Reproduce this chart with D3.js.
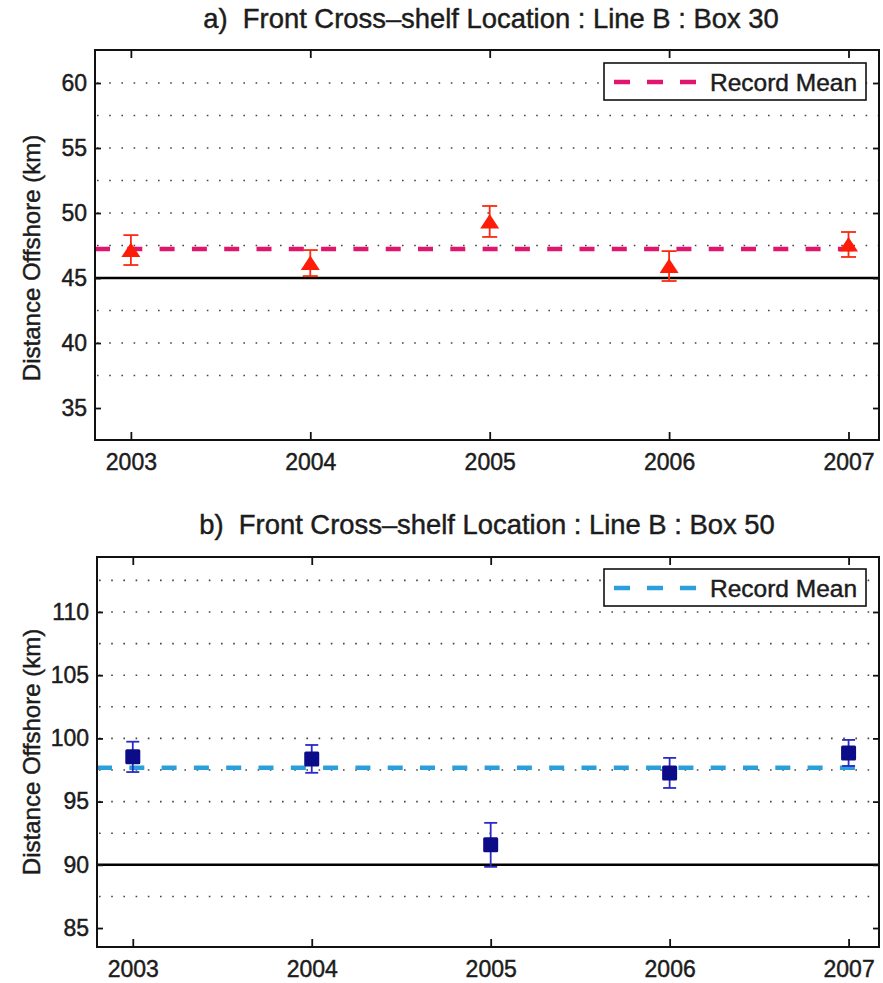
<!DOCTYPE html>
<html>
<head>
<meta charset="utf-8">
<script src="https://cdn.jsdelivr.net/npm/d3@7"></script>
<style>
body { margin: 0; background: #fff; }
svg text { font-family: "Liberation Sans", Arial, Helvetica, sans-serif; fill: #1c1c1c; stroke: #1c1c1c; stroke-width: 0.45px; white-space: pre; }
</style>
</head>
<body>
<div id="chart"></div>
<script>
// values
var years = [2003, 2004, 2005, 2006, 2007];

var box30Values = [47.15, 46.15, 49.35, 45.92, 47.58],
    box30Errors = [1.15, 1.0, 1.19, 1.15, 0.96],
    box30Mean = 47.23,
    box30Reference = 45,
    box30Ticks = [35, 40, 45, 50, 55, 60],
    box30Grid = [37.5, 40, 42.5, 45, 47.5, 50, 52.5, 55, 57.5, 60];

var box50Values = [98.54, 98.38, 91.58, 97.27, 98.85],
    box50Errors = [1.2, 1.1, 1.74, 1.19, 1.03],
    box50Mean = 97.67,
    box50Reference = 90,
    box50Ticks = [85, 90, 95, 100, 105, 110],
    box50Grid = [87.5, 90, 92.5, 95, 97.5, 100, 102.5, 105, 107.5, 110, 112.5];

var svg = d3.select("#chart").append("svg")
    .attr("width", 883)
    .attr("height", 983);

function drawPanel(p) {
    var width = p.right - p.left,
        height = p.bottom - p.top;

    var x = d3.scaleLinear()
        .domain([2002.8, 2007.17])
        .range([0, width]);

    var y = d3.scaleLinear()
        .domain(p.yDomain)
        .range([height, 0]);

    var g = svg.append("g")
        .attr("transform", "translate(" + p.left + "," + p.top + ")");

    // title
    svg.append("text")
        .attr("x", p.titleX)
        .attr("y", p.titleY)
        .attr("text-anchor", "middle")
        .style("font-size", "27.4px")
        .text(p.title);

    // y label
    svg.append("text")
        .attr("transform", "translate(40," + p.labelY + ") rotate(-90)")
        .attr("text-anchor", "middle")
        .style("font-size", "24px")
        .text("Distance Offshore (km)");

    // dotted grid
    g.selectAll(".grid")
        .data(p.grid)
        .enter()
        .append("line")
            .attr("x1", 2)
            .attr("x2", width)
            .attr("y1", function(d) { return y(d); })
            .attr("y2", function(d) { return y(d); })
            .attr("stroke", "#444")
            .attr("stroke-width", 1.6)
            .attr("stroke-dasharray", "1.6,10.6");

    // solid reference line
    g.append("line")
        .attr("x1", 0)
        .attr("x2", width)
        .attr("y1", y(p.reference))
        .attr("y2", y(p.reference))
        .attr("stroke", "#000")
        .attr("stroke-width", 2.5);

    // record mean
    g.append("line")
        .attr("x1", 0)
        .attr("x2", x(2007.1))
        .attr("y1", y(p.mean))
        .attr("y2", y(p.mean))
        .attr("stroke", p.meanColor)
        .attr("stroke-width", 4.5)
        .attr("stroke-dasharray", "15,17.3");

    var points = years.map(function(yr, i) {
        return { year: yr, value: p.values[i], err: p.errors[i] };
    });

    // error bars
    var eb = g.selectAll(".err")
        .data(points)
        .enter()
        .append("g")
            .attr("stroke", p.errorColor)
            .attr("stroke-width", 1.8)
            .attr("fill", "none");
    eb.append("line")
        .attr("x1", function(d) { return x(d.year); })
        .attr("x2", function(d) { return x(d.year); })
        .attr("y1", function(d) { return y(d.value - d.err); })
        .attr("y2", function(d) { return y(d.value + d.err); });
    eb.selectAll(".cap")
        .data(function(d) { return [d.value - d.err, d.value + d.err].map(function(v) { return { year: d.year, v: v }; }); })
        .enter()
        .append("line")
            .attr("x1", function(d) { return x(d.year) - p.capHalf; })
            .attr("x2", function(d) { return x(d.year) + p.capHalf; })
            .attr("y1", function(d) { return y(d.v); })
            .attr("y2", function(d) { return y(d.v); });

    // markers
    if (p.marker == "triangle") {
        g.selectAll(".mark")
            .data(points)
            .enter()
            .append("path")
                .attr("d", function(d) {
                    var cx = x(d.year), cy = y(d.value);
                    return "M" + (cx - 9.5) + "," + (cy + 7) + "L" + cx + "," + (cy - 7.5) + "L" + (cx + 9.5) + "," + (cy + 7) + "Z";
                })
                .attr("fill", p.markerColor);
    } else {
        g.selectAll(".mark")
            .data(points)
            .enter()
            .append("rect")
                .attr("x", function(d) { return x(d.year) - 7.5; })
                .attr("y", function(d) { return y(d.value) - 7.5; })
                .attr("width", 15)
                .attr("height", 15)
                .attr("rx", 1.5)
                .attr("fill", p.markerColor);
    }

    // axes, ticks inward like matlab
    var axisLeft = g.append("g")
        .call(d3.axisLeft(y).tickValues(p.ticks).tickSize(-6).tickPadding(8).tickFormat(d3.format("d")));
    var axisRight = g.append("g")
        .attr("transform", "translate(" + width + ",0)")
        .call(d3.axisRight(y).tickValues(p.ticks).tickSize(-6).tickFormat(""));
    var axisBottom = g.append("g")
        .attr("transform", "translate(0," + height + ")")
        .call(d3.axisBottom(x).tickValues(years).tickSize(-8).tickPadding(14).tickFormat(d3.format("d")));
    var axisTop = g.append("g")
        .call(d3.axisTop(x).tickValues(years).tickSize(-8).tickFormat(""));

    [axisLeft, axisRight, axisBottom, axisTop].forEach(function(a) {
        a.select(".domain").remove();
        a.selectAll(".tick line").attr("stroke", "#111").attr("stroke-width", 1.8);
        a.selectAll("text")
            .style("font-size", "23px")
            .style("font-family", "'Liberation Sans', Arial, sans-serif")
            .attr("fill", "#1c1c1c");
    });

    // box
    g.append("rect")
        .attr("width", width)
        .attr("height", height)
        .attr("fill", "none")
        .attr("stroke", "#111")
        .attr("stroke-width", 2);

    // legend
    var legend = g.append("g")
        .attr("transform", "translate(" + (width - 275) + "," + p.legendTop + ")");
    legend.append("rect")
        .attr("width", 262)
        .attr("height", 37)
        .attr("fill", "#fff")
        .attr("stroke", "#111")
        .attr("stroke-width", 1.6);
    legend.append("line")
        .attr("x1", 10)
        .attr("x2", 92)
        .attr("y1", 19)
        .attr("y2", 19)
        .attr("stroke", p.meanColor)
        .attr("stroke-width", 4.5)
        .attr("stroke-dasharray", "16,17");
    legend.append("text")
        .attr("x", 106)
        .attr("y", 27.5)
        .style("font-size", "24.5px")
        .text("Record Mean");
}

drawPanel({
    title: "a)  Front Cross\u2013shelf Location : Line B : Box 30",
    titleX: 491, titleY: 28,
    labelY: 258,
    left: 95, right: 879, top: 50, bottom: 440,
    yDomain: [32.54, 62.54],
    ticks: box30Ticks,
    grid: box30Grid,
    values: box30Values,
    errors: box30Errors,
    mean: box30Mean,
    reference: box30Reference,
    marker: "triangle",
    markerColor: "#fc1c08",
    errorColor: "#fa2a10",
    meanColor: "#e0166e",
    capHalf: 7.5,
    legendTop: 13
});

drawPanel({
    title: "b)  Front Cross\u2013shelf Location : Line B : Box 50",
    titleX: 487, titleY: 534,
    labelY: 752,
    left: 97, right: 879, top: 557, bottom: 947,
    yDomain: [83.5, 114.35],
    ticks: box50Ticks,
    grid: box50Grid,
    values: box50Values,
    errors: box50Errors,
    mean: box50Mean,
    reference: box50Reference,
    marker: "square",
    markerColor: "#0c0c88",
    errorColor: "#2a2ac8",
    meanColor: "#2b9fd9",
    capHalf: 6.5,
    legendTop: 12
});
</script>
</body>
</html>
